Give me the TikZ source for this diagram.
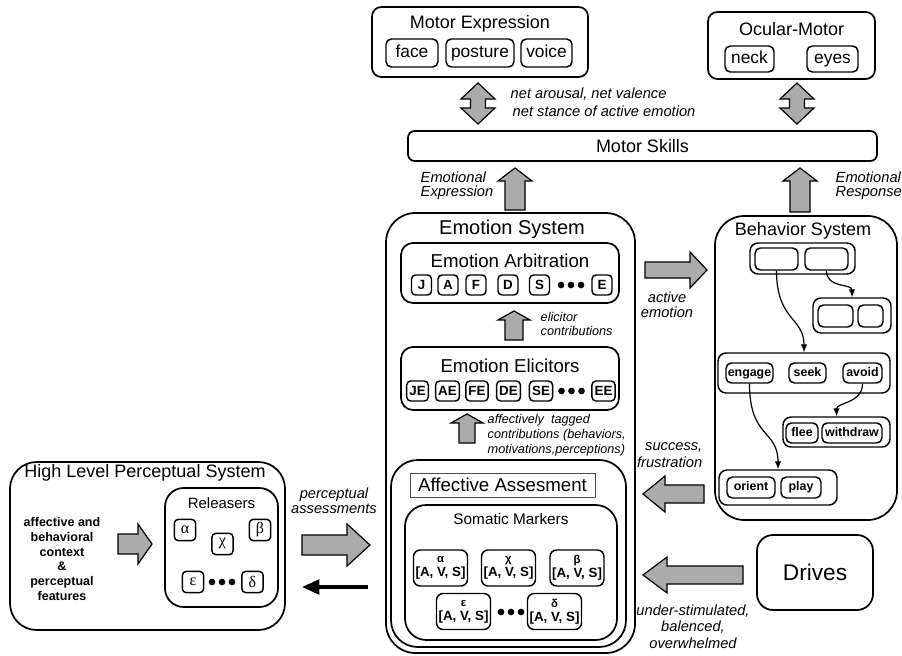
\documentclass[tikz,border=0pt]{standalone}
\usepackage{fontspec}
\setmainfont{Liberation Sans}
\newfontfamily\grk{Liberation Serif}
\usetikzlibrary{arrows.meta}
\newcommand\fsz[2]{\fontsize{#1}{#2}\selectfont}
\newcommand\bx[7][]{%
  \pgfmathsetmacro\bw{(#5-#3)*0.75}\pgfmathsetmacro\bh{(#6-#4)*0.75}%
  \pgfmathsetmacro\bcx{(#3+#5)/2}\pgfmathsetmacro\bcy{(#4+#6)/2}%
  \node[bx,#1,minimum width=\bw pt,minimum height=\bh pt] (#2) at (\bcx,\bcy) {#7};}
\newcommand\ArrH[6]{%
  \pgfmathsetmacro\hb{#2+(#1<#2 ? -1 : 1)*#6}%
  \filldraw[bigarr] (#1,#3-#4) -- (\hb,#3-#4) -- (\hb,#3-#5) -- (#2,#3) -- (\hb,#3+#5) -- (\hb,#3+#4) -- (#1,#3+#4) -- cycle;}
\newcommand\ArrV[6]{%
  \pgfmathsetmacro\hb{#3+(#2<#3 ? -1 : 1)*#6}%
  \filldraw[bigarr] (#1-#4,#2) -- (#1-#4,\hb) -- (#1-#5,\hb) -- (#1,#3) -- (#1+#5,\hb) -- (#1+#4,\hb) -- (#1+#4,#2) -- cycle;}
\newcommand\ArrVV[6]{%
  \pgfmathsetmacro\ha{#2+#6}\pgfmathsetmacro\hb{#3-#6}%
  \filldraw[bigarr] (#1,#2) -- (#1+#5,\ha) -- (#1+#4,\ha) -- (#1+#4,\hb) -- (#1+#5,\hb) -- (#1,#3) -- (#1-#5,\hb) -- (#1-#4,\hb) -- (#1-#4,\ha) -- (#1-#5,\ha) -- cycle;}
\newcommand\dotsat[2]{\foreach \dd in {-10,0,10} \fill (#1+\dd,#2) circle (2.5pt);}
\begin{document}
\begin{tikzpicture}[x=0.75pt,y=-0.75pt,
  bx/.style={draw, line width=1.1pt, fill=white, inner sep=0pt, rounded corners=4pt},
  big/.style={line width=1.3pt, rounded corners=#1},
  ttl/.style={font=\fsz{13.5}{16}},
  sub/.style={font=\fsz{14}{16}},
  it13/.style={font=\fsz{13}{15}, text height=9.4pt, text depth=2.8pt},
  lbl/.style={font=\fsz{11}{13}\itshape, align=left},
  slbl/.style={font=\fsz{9.5}{11}\itshape, align=left},
  lb/.style={draw, line width=1.1pt, fill=white, rounded corners=3pt, inner xsep=2pt, minimum height=15pt, minimum width=15pt, font=\fsz{10}{12}\bfseries},
  gk/.style={draw, line width=1.1pt, fill=white, rounded corners=3pt, inner sep=0pt, minimum height=16pt, minimum width=16pt, font=\fsz{12}{14}\grk},
  sm/.style={draw, line width=1.1pt, fill=white, rounded corners=5pt, inner sep=0pt, minimum width=40.5pt, minimum height=27pt, align=center, font=\fsz{10}{10.5}\bfseries},
  bigarr/.style={fill=gray!66, draw=black, line width=0.9pt, line join=miter},
  curv/.style={line width=0.9pt, -{Latex[length=6pt,width=5pt]}},
  bt/.style={font=\fsz{9.3}{11}\bfseries, text height=6.8pt, text depth=2pt}
]
\useasboundingbox (0,0) rectangle (902,656);

% ---------- Motor Expression ----------
\bx[big=7pt]{ME}{372}{7}{588}{77}{}
\node[ttl] (tME) at (480,24) {Motor Expression};
\bx[it13]{face}{386}{39}{438}{67}{face}
\bx[it13]{posture}{446}{39}{514}{67}{posture}
\bx[it13]{voice}{521}{39}{572}{67}{voice}

% ---------- Ocular-Motor ----------
\bx[big=7pt]{OM}{708}{12}{875}{79}{}
\node[ttl] (tOM) at (791.5,29) {Ocular-Motor};
\bx[it13]{neck}{725}{46}{774}{72}{neck}
\bx[it13]{eyes}{807}{46}{858}{72}{eyes}

% ---------- Motor Skills ----------
\bx[big=5pt, font=\fsz{13.5}{16}]{MS}{408}{131}{877}{161}{Motor Skills}

\ArrVV{478}{83}{124}{7.5}{17}{16}
\ArrVV{797}{83}{124}{7.5}{17}{16}
\node[lbl, anchor=west] (na) at (506,94) {net arousal, net valence};
\node[lbl, anchor=west] (ns) at (508,111) {net stance of active emotion};

\ArrV{515}{210}{168}{10}{17}{13}
\ArrV{800}{212}{168}{10}{17}{13}
\node[lbl, anchor=west] (ee1) at (416,177) {Emotional};
\node[lbl, anchor=west] (ee2) at (416,193) {Expression};
\node[lbl, anchor=west] (er1) at (831,177) {Emotional};
\node[lbl, anchor=west] (er2) at (831,193) {Response};

% ---------- Emotion System ----------
\bx[big=22pt]{ES}{386}{213}{635}{653}{}
\node[font=\fsz{15}{17}] (tES) at (512,229) {Emotion System};

\bx[big=9pt]{EA}{401}{243}{619}{303}{}
\node[sub] (tEA) at (510,261) {Emotion Arbitration};
\node[lb] (J) at (421.5,285) {J};
\node[lb] (A) at (448,285) {A};
\node[lb] (F) at (476,285) {F};
\node[lb] (D) at (508,285) {D};
\node[lb] (S) at (539.5,285) {S};
\dotsat{571}{285}
\node[lb] (E) at (602,285) {E};

\ArrV{514}{340}{311}{9}{16}{9}
\node[slbl, anchor=west] (ec1) at (536,317) {elicitor};
\node[slbl, anchor=west] (ec2) at (536,331) {contributions};

\bx[big=9pt]{EL}{401}{347}{619}{410}{}
\node[sub] (tEL) at (510,366) {Emotion Elicitors};
\node[lb] (JE) at (417.5,391) {JE};
\node[lb] (AE) at (447.5,391) {AE};
\node[lb] (FE) at (477,391) {FE};
\node[lb] (DE) at (508.5,391) {DE};
\node[lb] (SE) at (541,391) {SE};
\dotsat{571.5}{391}
\node[lb] (EE) at (603.5,391) {EE};

\ArrV{467}{443}{414}{8}{16}{9}
\node[slbl, anchor=west] (at1) at (483,420) {affectively\ \ tagged};
\node[slbl, anchor=west] (at2) at (483,435) {contributions (behaviors,};
\node[slbl, anchor=west] (at3) at (483,450) {motivations,perceptions)};

\bx[big=20pt]{AA}{391}{460}{626}{647}{}
\node[draw=black!70, line width=0.6pt, fill=white, minimum width=138.75pt, minimum height=18pt, font=\fsz{14}{16}] (tAA) at (502.5,485) {Affective Assesment};

\bx[big=16pt]{SMk}{405}{505}{617}{640}{}
\node[font=\fsz{11.5}{13}] (tSM) at (511,519) {Somatic Markers};
\node[sm] (sa) at (440.5,568) {{\fsz{8.5}{9}α}\\{}[A, V, S]};
\node[sm] (sc) at (508.5,568) {{\fsz{8.5}{9}χ}\\{}[A, V, S]};
\node[sm] (sb) at (577,568) {{\fsz{8.5}{9}β}\\{}[A, V, S]};
\node[sm] (se) at (463.5,611.5) {{\fsz{8.5}{9}ε}\\{}[A, V, S]};
\node[sm] (sd) at (554.5,611.5) {{\fsz{8.5}{9}δ}\\{}[A, V, S]};
\dotsat{511}{612}

% ---------- Behavior System ----------
\bx[big=22pt]{BS}{715}{216}{897}{520}{}
\node[font=\fsz{13.5}{16}] (tBS) at (803,231) {Behavior System};

\bx[rounded corners=6pt]{g1}{750}{243}{855}{274}{}
\bx{b1}{755}{248}{798}{270}{}
\bx{b2}{805}{248}{848}{270}{}
\bx[rounded corners=6pt]{g2}{813}{298}{891}{333}{}
\bx{b3}{818}{305}{853}{327}{}
\bx{b4}{858}{305}{883}{327}{}
\bx[rounded corners=6pt]{g3}{718}{353}{890}{393}{}
\bx[bt]{engage}{726}{363}{773}{383}{engage}
\bx[bt]{seek}{789}{363}{826}{383}{seek}
\bx[bt]{avoid}{843}{363}{882}{383}{avoid}
\bx[rounded corners=6pt]{g4}{783}{417}{890}{447}{}
\bx[bt]{flee}{786}{423}{818}{443}{flee}
\bx[bt]{withdraw}{822}{423}{882}{443}{withdraw}
\bx[rounded corners=6pt]{g5}{719}{470}{837}{505}{}
\bx[bt]{orient}{727}{477}{775}{498}{orient}
\bx[bt]{play}{781}{477}{821}{498}{play}

\draw[curv] (b1.south) .. controls +(0,50) and +(0,-35) .. (g3.north);
\draw[curv] (b2.south) .. controls +(0,18) and +(0,-14) .. (g2.north);
\draw[curv] (avoid.south) .. controls +(0,20) and +(0,-14) .. (g4.north);
\draw[curv] (engage.south) .. controls +(0,55) and +(0,-40) .. (g5.north);

% active emotion
\ArrH{645}{707}{270}{8}{18}{17}
\node[lbl, align=center] (ae1) at (667,297) {active};
\node[lbl, align=center] (ae2) at (667,312) {emotion};

% success / frustration
\ArrH{704}{643}{494}{9}{18}{22}
\node[lbl, anchor=east] (sf1) at (707,447) {success,};
\node[lbl, anchor=east] (sf2) at (707,462) {frustration};

% ---------- Drives ----------
\bx[big=12pt, font=\fsz{17}{20}]{DR}{757}{535}{873}{610}{Drives}
\ArrH{743}{643}{575}{9}{18}{24}
\node[lbl] (us1) at (693,611) {under-stimulated,};
\node[lbl] (us2) at (693,627) {balenced,};
\node[lbl] (us3) at (693,643) {overwhelmed};

% ---------- High Level Perceptual System ----------
\bx[big=20pt]{HL}{10}{462}{285}{630}{}
\node[ttl] (tHL) at (145,473) {High Level Perceptual System};
\node[font=\fsz{9.4}{11}\bfseries, align=center] (ctx) at (62,559)
  {affective and\\behavioral\\context\\\&\\perceptual\\features};
\ArrH{118}{152}{544}{10}{20}{14}

\bx[big=14pt]{RL}{165}{488}{278}{607}{}
\node[font=\fsz{11.2}{13}] (tRL) at (221.5,503) {Releasers};
\node[gk] (ra) at (185,530) {α};
\node[gk] (rc) at (222.5,544) {χ};
\node[gk] (rb) at (260,530) {β};
\node[gk] (re) at (193,582) {ε};
\node[gk] (rd) at (252.5,582) {δ};
\dotsat{222}{582}

% perceptual assessments
\ArrH{302}{370}{545}{10}{21}{23}
\node[lbl] (pa1) at (334,495) {perceptual};
\node[lbl] (pa2) at (334,509) {assessments};
\coordinate (bkS) at (368,587);
\coordinate (bkE) at (302,587);
\draw[line width=2.6pt, -{Triangle[length=13pt,width=11pt]}] (bkS) -- (bkE);
\end{tikzpicture}
\end{document}
